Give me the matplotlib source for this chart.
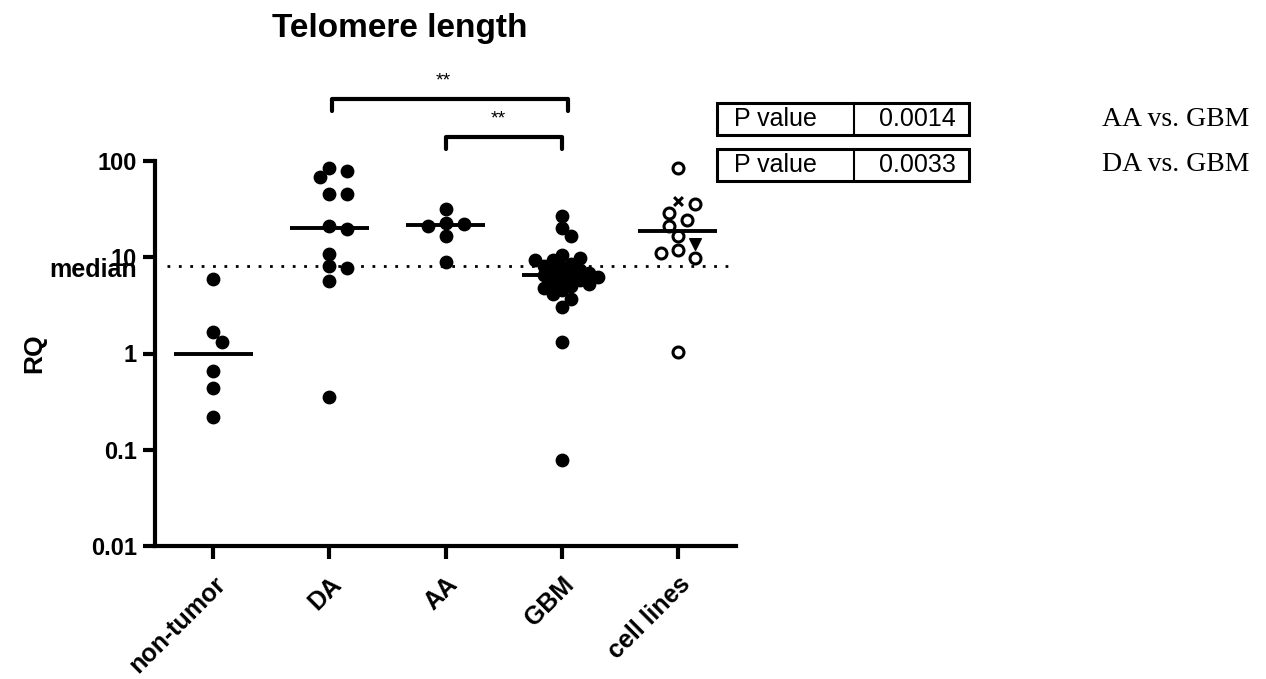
import matplotlib
matplotlib.use('Agg')
import matplotlib.pyplot as plt
from matplotlib.patches import Rectangle
import numpy as np

plt.rcParams['font.family'] = ['Liberation Sans', 'DejaVu Sans']

# RQ values per group
groups = ['non-tumor', 'DA', 'AA', 'GBM', 'cell lines']
non_tumor = [5.9, 1.68, 1.32, 0.66, 0.44, 0.22]
da = [84, 78, 68, 45, 45, 21, 19.5, 10.7, 8.2, 7.8, 5.6, 0.35]
aa = [32, 22.5, 22, 21, 16.5, 9.0]
gbm = [27, 20, 16.5, 10.5, 9.9, 9.3, 9.3, 8.5, 8.2, 7.8, 7.4, 7.0, 6.8, 6.6,
       6.5, 6.3, 6.0, 5.8, 5.5, 5.3, 5.0, 4.8, 4.6, 4.2, 3.7, 3.06, 1.32, 0.078]
cell_lines = [84, 38, 35.5, 28.6, 24.2, 20.9, 16.5, 13.8, 11.8, 11.2, 9.9, 1.04]
cell_markers = ['o', 'x', 'o', 'o', 'o', 'o', 'o', 'v', 'o', 'o', 'o', 'o']
overall_median = 8.1

yticks = [0.01, 0.1, 1, 10, 100]
ytick_labels = ['0.01', '0.1', '1', '10', '100']

p_values = ['0.0014', '0.0033']
comparisons = ['AA vs. GBM', 'DA vs. GBM']


def swarm(ax, xc, values, diam=11.0, step=8.7):
    # spread a column of points sideways (in pixels) so they do not sit on top of each other
    pts = ax.transData.transform(np.column_stack([np.full(len(values), float(xc)), values]))
    placed = []
    xs = []
    for px, py in pts:
        for k in [0, 1, -1, 2, -2, 3, -3, 4, -4, 5, -5, 6, -6]:
            cx = px + k * step
            if all((cx - qx) ** 2 + (py - qy) ** 2 >= diam ** 2 for qx, qy in placed):
                break
        placed.append((cx, py))
        xs.append(ax.transData.inverted().transform((cx, py))[0])
    return np.array(xs)


fig = plt.figure(figsize=(12.66, 6.79), dpi=100)
ax = fig.add_axes([155 / 1266, 1 - 546 / 679, 581 / 1266, 385 / 679])
ax.set_yscale('log')
ax.set_xlim(-0.5, 4.5)
ax.set_ylim(0.01, 100)

filled = [non_tumor, da, aa, gbm]
for i, vals in enumerate(filled):
    # the GBM column is dense, let its dots overlap a little
    xs = swarm(ax, i, vals, diam=9.5 if i == 3 else 11.0, step=9.0)
    ax.scatter(xs, vals, s=80, color='black', zorder=3, clip_on=False)

xs = swarm(ax, 4, cell_lines, diam=13.0, step=8.7)
for x, v, m in zip(xs, cell_lines, cell_markers):
    if m == 'o':
        ax.scatter(x, v, s=62, facecolor='white', edgecolor='black', linewidth=2.2, zorder=3, clip_on=False)
    elif m == 'x':
        ax.scatter(x, v, s=40, marker='x', color='black', linewidth=2.2, zorder=3, clip_on=False)
    else:
        ax.scatter(x, v, s=70, marker='v', color='black', zorder=3, clip_on=False)

# group medians
for i, vals in enumerate(filled + [cell_lines]):
    ax.hlines(np.median(vals), i - 0.34, i + 0.34, color='black', lw=2.8, zorder=4)

# overall median
ax.plot([-0.4, 4.5], [overall_median, overall_median], color='black', lw=2,
        dashes=(1, 3.1), clip_on=False, zorder=2)
ax.annotate('median', xy=(0, overall_median), xycoords=('axes fraction', 'data'),
            xytext=(-18, -4), textcoords='offset pixels', ha='right', va='center',
            fontsize=18, fontweight='bold')

# significance brackets
brackets = [(1.02, 3.05, 440, 331), (2.0, 3.0, 177, 133)]
for x0, x1, top, bottom in brackets:
    ax.plot([x0, x0, x1, x1], [bottom, top, top, bottom], color='black', lw=3,
            clip_on=False, solid_joinstyle='round', solid_capstyle='round')
    ax.text((x0 + x1) / 2 - 0.05, top * 1.55, '**', ha='center', va='center', fontsize=14)

for s in ['top', 'right']:
    ax.spines[s].set_visible(False)
for s in ['left', 'bottom']:
    ax.spines[s].set_linewidth(3)

ax.set_yticks(yticks)
ax.set_yticklabels(ytick_labels)
ax.minorticks_off()
ax.set_xticks(range(len(groups)))
ax.set_xticklabels(groups, rotation=45, ha='right', va='top', rotation_mode='anchor')
ax.tick_params(axis='both', direction='out', length=9, width=3, pad=4)
ax.tick_params(axis='y', labelsize=17)
ax.tick_params(axis='x', labelsize=18, pad=10)
for lab in ax.get_xticklabels() + ax.get_yticklabels():
    lab.set_fontweight('bold')

ax.set_ylabel('RQ', fontsize=19, fontweight='bold', labelpad=32)

fig.text(400 / 1266, 1 - 37 / 679, 'Telomere length', ha='center', va='baseline',
         fontsize=24, fontweight='bold')

# P value boxes
for j, (p, comp) in enumerate(zip(p_values, comparisons)):
    top = 103 + j * 46
    y0 = 1 - (top + 32) / 679
    h = 32 / 679
    fig.add_artist(Rectangle((717 / 1266, y0), 252 / 1266, h, transform=fig.transFigure,
                             fill=False, lw=2.2, edgecolor='black'))
    fig.add_artist(plt.Line2D([854 / 1266, 854 / 1266], [y0, y0 + h], transform=fig.transFigure,
                              color='black', lw=1.5))
    fig.text(775 / 1266, y0 + h / 2, 'P value', ha='center', va='center', fontsize=18)
    fig.text(917 / 1266, y0 + h / 2, p, ha='center', va='center', fontsize=18)
    fig.text(1102 / 1266, y0 + h / 2, comp, ha='left', va='center', fontsize=20,
             family='Liberation Serif')

fig.savefig('out.png', dpi=100)
